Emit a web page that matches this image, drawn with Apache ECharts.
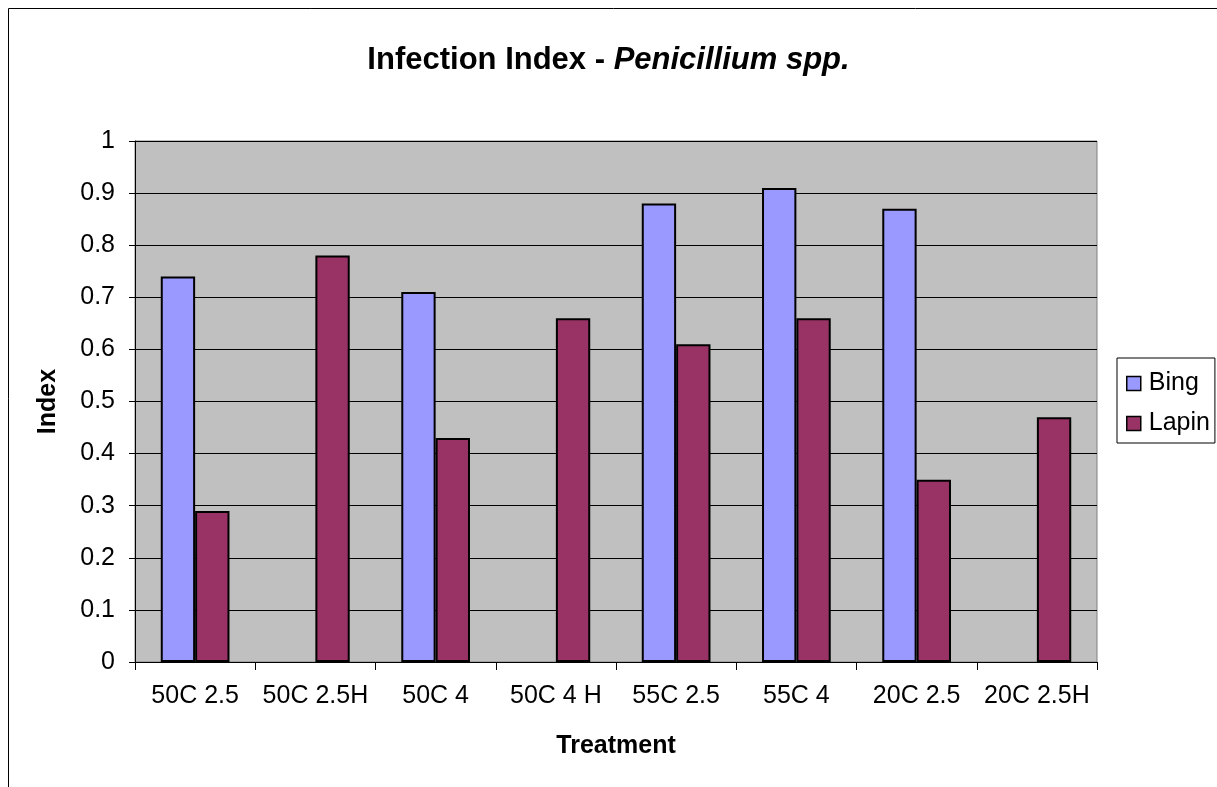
<!DOCTYPE html>
<html>
<head>
    <meta http-equiv="Content-Type" content="text/html; charset=utf-8"/>
    <script src="https://cdn.jsdelivr.net/npm/echarts@6/dist/echarts.min.js"></script>
    <style>
        html, body { margin: 0; padding: 0; background: #fff; }
    </style>
</head>
<body>

<div id="chart" style="width: 1217px; height: 787px;"></div>

<script type="text/javascript">
    // categories and values
    var treatments = ['50C 2.5', '50C 2.5H', '50C 4', '50C 4 H', '55C 2.5', '55C 4', '20C 2.5', '20C 2.5H'];
    var bingValues = [0.74, '-', 0.71, '-', 0.88, 0.91, 0.87, '-'];
    var lapinValues = [0.29, 0.78, 0.43, 0.66, 0.61, 0.66, 0.35, 0.47];
    var seriesNames = ['Bing', 'Lapin'];

    var chart = echarts.init(document.getElementById('chart'));
    var font = 'Liberation Sans, Arial, sans-serif';

    var option = {
        animation: false,
        textStyle: { fontFamily: font },
        /* outer chart frame */
        graphic: [{
            type: 'rect',
            shape: { x: 8.5, y: 8.5, width: 1400, height: 1000 },
            style: { fill: 'none', stroke: '#000', lineWidth: 1 },
            z: -1
        }],
        title: {
            text: '{b|Infection Index - }{i|Penicillium spp.}',
            left: 'center',
            top: 40,
            textStyle: {
                rich: {
                    b: { fontSize: 31, fontWeight: 'bold', color: '#000', fontFamily: font },
                    i: { fontSize: 31, fontWeight: 'bold', fontStyle: 'italic', color: '#000', fontFamily: font }
                }
            }
        },
        color: ['#9999FF', '#993366'],
        grid: {
            left: 135,
            right: 120,
            top: 141,
            bottom: 125,
            show: true,
            backgroundColor: '#C0C0C0',
            borderColor: '#808080',
            borderWidth: 1
        },
        legend: {
            orient: 'vertical',
            left: 1117,
            top: 358,
            data: seriesNames,
            icon: 'rect',
            itemWidth: 14,
            itemHeight: 14,
            itemGap: 15,
            padding: [13, 5, 7, 9],
            backgroundColor: '#fff',
            borderColor: '#000',
            borderWidth: 1,
            textStyle: { fontSize: 25, color: '#000', fontFamily: font, padding: [0, 0, 0, 3] },
            itemStyle: { borderColor: '#000', borderWidth: 1.5 }
        },
        xAxis: {
            type: 'category',
            data: treatments,
            name: 'Treatment',
            nameLocation: 'middle',
            nameGap: 72,
            nameTextStyle: { fontSize: 25, fontWeight: 'bold', color: '#000' },
            axisLine: { lineStyle: { color: '#000', width: 1 } },
            axisTick: { show: true, alignWithLabel: false, length: 8, lineStyle: { color: '#000' } },
            axisLabel: { fontSize: 25, color: '#000', margin: 22, interval: 0 },
            splitLine: { show: false }
        },
        yAxis: {
            type: 'value',
            min: 0,
            max: 1,
            interval: 0.1,
            name: 'Index',
            nameLocation: 'middle',
            nameGap: 74,
            nameRotate: 90,
            nameTextStyle: { fontSize: 25, fontWeight: 'bold', color: '#000' },
            axisLine: { show: true, lineStyle: { color: '#000', width: 1 } },
            axisTick: { show: true, length: 6, lineStyle: { color: '#000' } },
            axisLabel: { fontSize: 25, color: '#000', margin: 20 },
            splitLine: { show: true, lineStyle: { color: '#000', width: 1 } }
        },
        series: [{
            name: seriesNames[0],
            type: 'bar',
            data: bingValues,
            barGap: '0%',
            barCategoryGap: '42.86%',
            itemStyle: { borderColor: '#000', borderWidth: 2 }
        }, {
            name: seriesNames[1],
            type: 'bar',
            data: lapinValues,
            barGap: '0%',
            barCategoryGap: '42.86%',
            itemStyle: { borderColor: '#000', borderWidth: 2 }
        }]
    };

    chart.setOption(option);
</script>

</body>
</html>
